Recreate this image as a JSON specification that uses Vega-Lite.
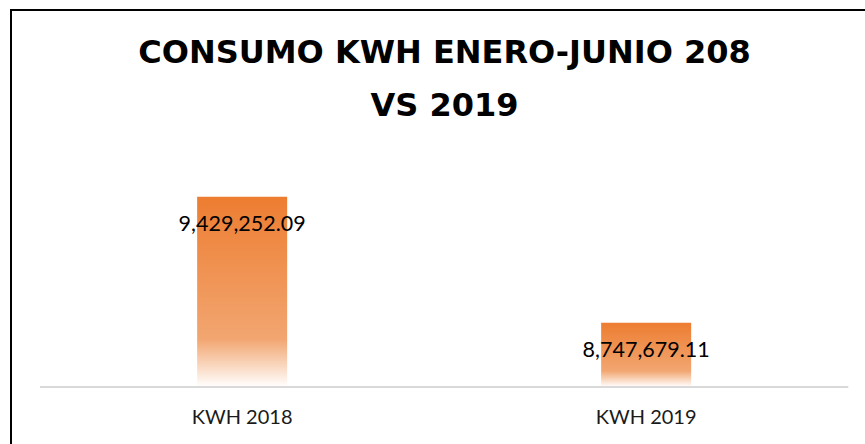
{
  "$schema": "https://vega.github.io/schema/vega-lite/v6.json",
  "width": 859,
  "height": 440,
  "autosize": {"type": "none"},
  "padding": {"left": 11, "top": 10, "right": 0, "bottom": 0},
  "background": "white",
  "title": {
    "text": ["CONSUMO KWH ENERO-JUNIO 208", "VS 2019"],
    "font": "DejaVu Sans",
    "fontWeight": "bold",
    "fontSize": 32,
    "color": "#000000",
    "lineHeight": 53,
    "baseline": "alphabetic",
    "anchor": "middle",
    "frame": "group",
    "offset": -138,
    "dx": 4
  },
  "config": {"view": {"stroke": "#000000", "strokeWidth": 2}},
  "data": {
    "values": [
      {"categoria": "KWH 2018", "kwh": 9429252.09},
      {"categoria": "KWH 2019", "kwh": 8747679.11}
    ]
  },
  "encoding": {
    "x": {
      "field": "categoria",
      "type": "nominal",
      "sort": null,
      "axis": null,
      "scale": {"paddingInner": 0.7772, "paddingOuter": 0.4517, "align": 0.51}
    }
  },
  "layer": [
    {
      "mark": {
        "type": "bar",
        "fill": {
          "gradient": "linear",
          "x1": 0, "y1": 0, "x2": 0, "y2": 1,
          "stops": [
            {"offset": 0, "color": "#ED7D31"},
            {"offset": 0.75, "color": "#F2A671"},
            {"offset": 1, "color": "#FFFFFF"}
          ]
        }
      },
      "encoding": {
        "y": {
          "field": "kwh",
          "type": "quantitative",
          "axis": null,
          "scale": {"domain": [8059000, 10439000], "nice": false, "zero": false}
        },
        "y2": {"datum": 8400000}
      }
    },
    {
      "mark": {"type": "rule", "color": "#D9D9D9", "strokeWidth": 2},
      "encoding": {
        "x": {"datum": "KWH 2018", "bandPosition": -1.744},
        "x2": {"datum": "KWH 2019", "bandPosition": 2.744},
        "y": {"datum": 8400000, "type": "quantitative"}
      }
    },
    {
      "mark": {"type": "text", "font": "Lato", "fontSize": 21.5, "color": "#000000", "baseline": "middle", "dy": 28},
      "encoding": {
        "y": {"field": "kwh", "type": "quantitative"},
        "text": {"field": "kwh", "type": "quantitative", "format": ",.2f"}
      }
    },
    {
      "mark": {"type": "text", "font": "Lato", "fontSize": 20, "color": "#1a1a1a", "baseline": "middle", "dy": 31},
      "encoding": {
        "y": {"datum": 8400000, "type": "quantitative"},
        "text": {"field": "categoria", "type": "nominal"}
      }
    }
  ]
}
